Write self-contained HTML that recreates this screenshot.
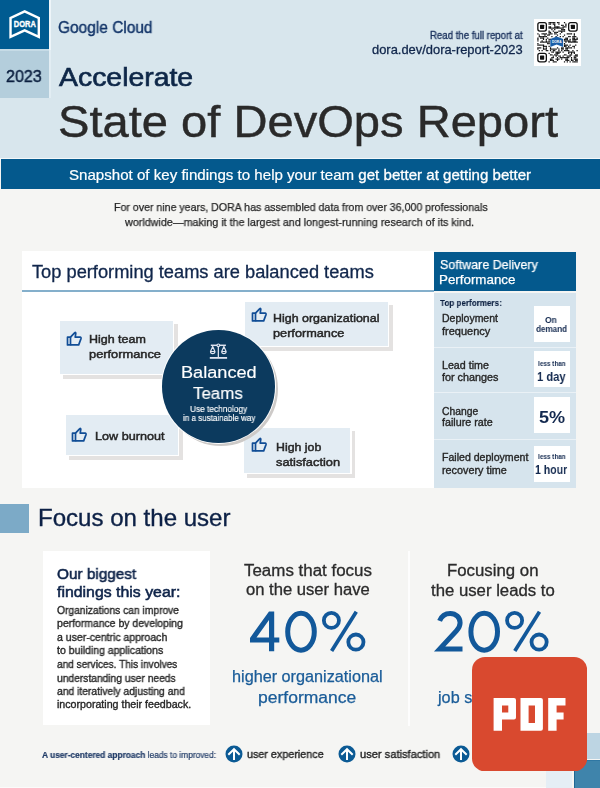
<!DOCTYPE html>
<html><head><meta charset="utf-8"><title>State of DevOps Report 2023</title>
<style>
html,body{margin:0;padding:0;}
body{width:600px;height:788px;overflow:hidden;position:relative;background:#f5f5f3;font-family:"Liberation Sans",sans-serif;}
.abs{position:absolute;}
.t{position:absolute;white-space:nowrap;will-change:transform;font-family:"Liberation Sans",sans-serif;}
.card{position:absolute;background:#e3ecf3;}
.shadow{position:absolute;background:#e4e2e1;}
.ic{display:block;}
.wb{position:absolute;left:534px;width:36px;height:36px;background:#fff;}
.sep{position:absolute;left:434px;width:142px;height:1px;background:#eaf1f6;}
</style></head><body>
<!-- header -->
<div class="abs" style="left:0;top:0;width:600px;height:158px;background:#d8e6ed"></div>
<div class="abs" style="left:49px;top:0;width:1.5px;height:50px;background:#eef5f9"></div>
<div class="abs" style="left:0;top:49px;width:49px;height:1.5px;background:#c6dbe6"></div>
<div class="abs" style="left:0;top:158px;width:600px;height:1.5px;background:#f3f7f9"></div>
<div class="abs" style="left:1px;top:159.3px;width:599px;height:30.2px;background:#04598d"></div>
<div class="abs" style="left:0;top:0;width:49px;height:49px;background:#005b91">
<svg width="49" height="49" viewBox="0 0 49 49">
<path fill="#fff" fill-rule="evenodd" d="M9.33,17.33 L24.67,10 L40,17.33 L40,38.67 L24.67,31.67 L9.33,38.67 Z M11.73,18.85 L11.73,34.94 L24.67,29.03 L37.6,34.94 L37.6,18.85 L24.67,12.66 Z"/>
<text x="24.8" y="27.1" text-anchor="middle" font-family="Liberation Sans" font-weight="700" font-size="8.8" fill="#fff" stroke="#fff" stroke-width="0.35" textLength="22" lengthAdjust="spacingAndGlyphs">DORA</text>
</svg></div>
<div class="abs" style="left:0;top:50.5px;width:49px;height:47.5px;background:#b4cedc"></div>
<div class="abs" style="left:49px;top:50px;width:1.5px;height:48px;background:#e2edf3"></div>
<!-- QR -->
<div class="abs" style="left:534px;top:18.6px;width:47.4px;height:47.4px;background:#fff">
<svg width="48" height="48" viewBox="0 0 48 48" style="position:absolute;left:0;top:0">
<path fill="#111" d="M14.50,3.00h1.25v1.25h-1.25zM15.90,3.00h1.25v1.25h-1.25zM17.30,3.00h1.25v1.25h-1.25zM18.70,3.00h1.25v1.25h-1.25zM20.10,3.00h1.25v1.25h-1.25zM22.90,3.00h1.25v1.25h-1.25zM24.30,3.00h1.25v1.25h-1.25zM29.90,3.00h1.25v1.25h-1.25zM14.50,4.40h1.25v1.25h-1.25zM15.90,4.40h1.25v1.25h-1.25zM18.70,4.40h1.25v1.25h-1.25zM20.10,4.40h1.25v1.25h-1.25zM24.30,4.40h1.25v1.25h-1.25zM31.30,4.40h1.25v1.25h-1.25zM20.10,5.80h1.25v1.25h-1.25zM27.10,5.80h1.25v1.25h-1.25zM28.50,5.80h1.25v1.25h-1.25zM31.30,5.80h1.25v1.25h-1.25zM14.50,7.20h1.25v1.25h-1.25zM15.90,7.20h1.25v1.25h-1.25zM20.10,7.20h1.25v1.25h-1.25zM21.50,7.20h1.25v1.25h-1.25zM22.90,7.20h1.25v1.25h-1.25zM24.30,7.20h1.25v1.25h-1.25zM28.50,7.20h1.25v1.25h-1.25zM29.90,7.20h1.25v1.25h-1.25zM31.30,7.20h1.25v1.25h-1.25zM14.50,8.60h1.25v1.25h-1.25zM15.90,8.60h1.25v1.25h-1.25zM17.30,8.60h1.25v1.25h-1.25zM18.70,8.60h1.25v1.25h-1.25zM20.10,8.60h1.25v1.25h-1.25zM21.50,8.60h1.25v1.25h-1.25zM22.90,8.60h1.25v1.25h-1.25zM24.30,8.60h1.25v1.25h-1.25zM25.70,8.60h1.25v1.25h-1.25zM27.10,8.60h1.25v1.25h-1.25zM28.50,8.60h1.25v1.25h-1.25zM17.30,10.00h1.25v1.25h-1.25zM20.10,10.00h1.25v1.25h-1.25zM27.10,10.00h1.25v1.25h-1.25zM28.50,10.00h1.25v1.25h-1.25zM29.90,10.00h1.25v1.25h-1.25zM14.50,11.40h1.25v1.25h-1.25zM18.70,11.40h1.25v1.25h-1.25zM24.30,11.40h1.25v1.25h-1.25zM25.70,11.40h1.25v1.25h-1.25zM27.10,11.40h1.25v1.25h-1.25zM28.50,11.40h1.25v1.25h-1.25zM29.90,11.40h1.25v1.25h-1.25zM14.50,12.80h1.25v1.25h-1.25zM15.90,12.80h1.25v1.25h-1.25zM20.10,12.80h1.25v1.25h-1.25zM21.50,12.80h1.25v1.25h-1.25zM22.90,12.80h1.25v1.25h-1.25zM27.10,12.80h1.25v1.25h-1.25zM3.30,14.20h1.25v1.25h-1.25zM7.50,14.20h1.25v1.25h-1.25zM8.90,14.20h1.25v1.25h-1.25zM10.30,14.20h1.25v1.25h-1.25zM11.70,14.20h1.25v1.25h-1.25zM14.50,14.20h1.25v1.25h-1.25zM15.90,14.20h1.25v1.25h-1.25zM17.30,14.20h1.25v1.25h-1.25zM20.10,14.20h1.25v1.25h-1.25zM21.50,14.20h1.25v1.25h-1.25zM25.70,14.20h1.25v1.25h-1.25zM32.70,14.20h1.25v1.25h-1.25zM34.10,14.20h1.25v1.25h-1.25zM35.50,14.20h1.25v1.25h-1.25zM36.90,14.20h1.25v1.25h-1.25zM39.70,14.20h1.25v1.25h-1.25zM4.70,15.60h1.25v1.25h-1.25zM10.30,15.60h1.25v1.25h-1.25zM13.10,15.60h1.25v1.25h-1.25zM14.50,15.60h1.25v1.25h-1.25zM22.90,15.60h1.25v1.25h-1.25zM29.90,15.60h1.25v1.25h-1.25zM39.70,15.60h1.25v1.25h-1.25zM4.70,17.00h1.25v1.25h-1.25zM6.10,17.00h1.25v1.25h-1.25zM7.50,17.00h1.25v1.25h-1.25zM8.90,17.00h1.25v1.25h-1.25zM10.30,17.00h1.25v1.25h-1.25zM11.70,17.00h1.25v1.25h-1.25zM17.30,17.00h1.25v1.25h-1.25zM21.50,17.00h1.25v1.25h-1.25zM25.70,17.00h1.25v1.25h-1.25zM28.50,17.00h1.25v1.25h-1.25zM34.10,17.00h1.25v1.25h-1.25zM35.50,17.00h1.25v1.25h-1.25zM38.30,17.00h1.25v1.25h-1.25zM39.70,17.00h1.25v1.25h-1.25zM41.10,17.00h1.25v1.25h-1.25zM3.30,18.40h1.25v1.25h-1.25zM6.10,18.40h1.25v1.25h-1.25zM7.50,18.40h1.25v1.25h-1.25zM8.90,18.40h1.25v1.25h-1.25zM13.10,18.40h1.25v1.25h-1.25zM31.30,18.40h1.25v1.25h-1.25zM32.70,18.40h1.25v1.25h-1.25zM38.30,18.40h1.25v1.25h-1.25zM39.70,18.40h1.25v1.25h-1.25zM42.50,18.40h1.25v1.25h-1.25zM3.30,19.80h1.25v1.25h-1.25zM8.90,19.80h1.25v1.25h-1.25zM11.70,19.80h1.25v1.25h-1.25zM14.50,19.80h1.25v1.25h-1.25zM15.90,19.80h1.25v1.25h-1.25zM29.90,19.80h1.25v1.25h-1.25zM31.30,19.80h1.25v1.25h-1.25zM32.70,19.80h1.25v1.25h-1.25zM35.50,19.80h1.25v1.25h-1.25zM38.30,19.80h1.25v1.25h-1.25zM39.70,19.80h1.25v1.25h-1.25zM41.10,19.80h1.25v1.25h-1.25zM42.50,19.80h1.25v1.25h-1.25zM3.30,21.20h1.25v1.25h-1.25zM7.50,21.20h1.25v1.25h-1.25zM11.70,21.20h1.25v1.25h-1.25zM14.50,21.20h1.25v1.25h-1.25zM29.90,21.20h1.25v1.25h-1.25zM31.30,21.20h1.25v1.25h-1.25zM32.70,21.20h1.25v1.25h-1.25zM34.10,21.20h1.25v1.25h-1.25zM35.50,21.20h1.25v1.25h-1.25zM38.30,21.20h1.25v1.25h-1.25zM39.70,21.20h1.25v1.25h-1.25zM41.10,21.20h1.25v1.25h-1.25zM6.10,22.60h1.25v1.25h-1.25zM7.50,22.60h1.25v1.25h-1.25zM8.90,22.60h1.25v1.25h-1.25zM10.30,22.60h1.25v1.25h-1.25zM11.70,22.60h1.25v1.25h-1.25zM13.10,22.60h1.25v1.25h-1.25zM14.50,22.60h1.25v1.25h-1.25zM31.30,22.60h1.25v1.25h-1.25zM34.10,22.60h1.25v1.25h-1.25zM35.50,22.60h1.25v1.25h-1.25zM36.90,22.60h1.25v1.25h-1.25zM38.30,22.60h1.25v1.25h-1.25zM39.70,22.60h1.25v1.25h-1.25zM41.10,22.60h1.25v1.25h-1.25zM42.50,22.60h1.25v1.25h-1.25zM3.30,24.00h1.25v1.25h-1.25zM13.10,24.00h1.25v1.25h-1.25zM14.50,24.00h1.25v1.25h-1.25zM29.90,24.00h1.25v1.25h-1.25zM3.30,25.40h1.25v1.25h-1.25zM4.70,25.40h1.25v1.25h-1.25zM6.10,25.40h1.25v1.25h-1.25zM7.50,25.40h1.25v1.25h-1.25zM8.90,25.40h1.25v1.25h-1.25zM29.90,25.40h1.25v1.25h-1.25zM31.30,25.40h1.25v1.25h-1.25zM32.70,25.40h1.25v1.25h-1.25zM35.50,25.40h1.25v1.25h-1.25zM41.10,25.40h1.25v1.25h-1.25zM8.90,26.80h1.25v1.25h-1.25zM10.30,26.80h1.25v1.25h-1.25zM11.70,26.80h1.25v1.25h-1.25zM14.50,26.80h1.25v1.25h-1.25zM29.90,26.80h1.25v1.25h-1.25zM31.30,26.80h1.25v1.25h-1.25zM34.10,26.80h1.25v1.25h-1.25zM38.30,26.80h1.25v1.25h-1.25zM39.70,26.80h1.25v1.25h-1.25zM3.30,28.20h1.25v1.25h-1.25zM4.70,28.20h1.25v1.25h-1.25zM6.10,28.20h1.25v1.25h-1.25zM8.90,28.20h1.25v1.25h-1.25zM11.70,28.20h1.25v1.25h-1.25zM15.90,28.20h1.25v1.25h-1.25zM22.90,28.20h1.25v1.25h-1.25zM27.10,28.20h1.25v1.25h-1.25zM28.50,28.20h1.25v1.25h-1.25zM31.30,28.20h1.25v1.25h-1.25zM32.70,28.20h1.25v1.25h-1.25zM34.10,28.20h1.25v1.25h-1.25zM35.50,28.20h1.25v1.25h-1.25zM36.90,28.20h1.25v1.25h-1.25zM39.70,28.20h1.25v1.25h-1.25zM3.30,29.60h1.25v1.25h-1.25zM8.90,29.60h1.25v1.25h-1.25zM10.30,29.60h1.25v1.25h-1.25zM11.70,29.60h1.25v1.25h-1.25zM15.90,29.60h1.25v1.25h-1.25zM17.30,29.60h1.25v1.25h-1.25zM18.70,29.60h1.25v1.25h-1.25zM20.10,29.60h1.25v1.25h-1.25zM21.50,29.60h1.25v1.25h-1.25zM24.30,29.60h1.25v1.25h-1.25zM27.10,29.60h1.25v1.25h-1.25zM28.50,29.60h1.25v1.25h-1.25zM31.30,29.60h1.25v1.25h-1.25zM32.70,29.60h1.25v1.25h-1.25zM4.70,31.00h1.25v1.25h-1.25zM7.50,31.00h1.25v1.25h-1.25zM11.70,31.00h1.25v1.25h-1.25zM13.10,31.00h1.25v1.25h-1.25zM15.90,31.00h1.25v1.25h-1.25zM18.70,31.00h1.25v1.25h-1.25zM20.10,31.00h1.25v1.25h-1.25zM24.30,31.00h1.25v1.25h-1.25zM27.10,31.00h1.25v1.25h-1.25zM29.90,31.00h1.25v1.25h-1.25zM31.30,31.00h1.25v1.25h-1.25zM32.70,31.00h1.25v1.25h-1.25zM34.10,31.00h1.25v1.25h-1.25zM38.30,31.00h1.25v1.25h-1.25zM42.50,31.00h1.25v1.25h-1.25zM17.30,32.40h1.25v1.25h-1.25zM18.70,32.40h1.25v1.25h-1.25zM21.50,32.40h1.25v1.25h-1.25zM22.90,32.40h1.25v1.25h-1.25zM24.30,32.40h1.25v1.25h-1.25zM25.70,32.40h1.25v1.25h-1.25zM28.50,32.40h1.25v1.25h-1.25zM34.10,32.40h1.25v1.25h-1.25zM35.50,32.40h1.25v1.25h-1.25zM36.90,32.40h1.25v1.25h-1.25zM38.30,32.40h1.25v1.25h-1.25zM39.70,32.40h1.25v1.25h-1.25zM14.50,33.80h1.25v1.25h-1.25zM21.50,33.80h1.25v1.25h-1.25zM22.90,33.80h1.25v1.25h-1.25zM24.30,33.80h1.25v1.25h-1.25zM34.10,33.80h1.25v1.25h-1.25zM36.90,33.80h1.25v1.25h-1.25zM39.70,33.80h1.25v1.25h-1.25zM15.90,35.20h1.25v1.25h-1.25zM17.30,35.20h1.25v1.25h-1.25zM20.10,35.20h1.25v1.25h-1.25zM21.50,35.20h1.25v1.25h-1.25zM22.90,35.20h1.25v1.25h-1.25zM29.90,35.20h1.25v1.25h-1.25zM31.30,35.20h1.25v1.25h-1.25zM35.50,35.20h1.25v1.25h-1.25zM36.90,35.20h1.25v1.25h-1.25zM41.10,35.20h1.25v1.25h-1.25zM42.50,35.20h1.25v1.25h-1.25zM18.70,36.60h1.25v1.25h-1.25zM21.50,36.60h1.25v1.25h-1.25zM24.30,36.60h1.25v1.25h-1.25zM25.70,36.60h1.25v1.25h-1.25zM28.50,36.60h1.25v1.25h-1.25zM32.70,36.60h1.25v1.25h-1.25zM34.10,36.60h1.25v1.25h-1.25zM35.50,36.60h1.25v1.25h-1.25zM39.70,36.60h1.25v1.25h-1.25zM41.10,36.60h1.25v1.25h-1.25zM42.50,36.60h1.25v1.25h-1.25zM17.30,38.00h1.25v1.25h-1.25zM18.70,38.00h1.25v1.25h-1.25zM22.90,38.00h1.25v1.25h-1.25zM25.70,38.00h1.25v1.25h-1.25zM27.10,38.00h1.25v1.25h-1.25zM28.50,38.00h1.25v1.25h-1.25zM29.90,38.00h1.25v1.25h-1.25zM31.30,38.00h1.25v1.25h-1.25zM32.70,38.00h1.25v1.25h-1.25zM34.10,38.00h1.25v1.25h-1.25zM36.90,38.00h1.25v1.25h-1.25zM39.70,38.00h1.25v1.25h-1.25zM41.10,38.00h1.25v1.25h-1.25zM15.90,39.40h1.25v1.25h-1.25zM17.30,39.40h1.25v1.25h-1.25zM21.50,39.40h1.25v1.25h-1.25zM22.90,39.40h1.25v1.25h-1.25zM24.30,39.40h1.25v1.25h-1.25zM27.10,39.40h1.25v1.25h-1.25zM31.30,39.40h1.25v1.25h-1.25zM32.70,39.40h1.25v1.25h-1.25zM36.90,39.40h1.25v1.25h-1.25zM39.70,39.40h1.25v1.25h-1.25zM41.10,39.40h1.25v1.25h-1.25zM42.50,39.40h1.25v1.25h-1.25zM15.90,40.80h1.25v1.25h-1.25zM17.30,40.80h1.25v1.25h-1.25zM18.70,40.80h1.25v1.25h-1.25zM22.90,40.80h1.25v1.25h-1.25zM31.30,40.80h1.25v1.25h-1.25zM32.70,40.80h1.25v1.25h-1.25zM34.10,40.80h1.25v1.25h-1.25zM36.90,40.80h1.25v1.25h-1.25zM38.30,40.80h1.25v1.25h-1.25zM41.10,40.80h1.25v1.25h-1.25zM42.50,40.80h1.25v1.25h-1.25zM14.50,42.20h1.25v1.25h-1.25zM18.70,42.20h1.25v1.25h-1.25zM20.10,42.20h1.25v1.25h-1.25zM21.50,42.20h1.25v1.25h-1.25zM29.90,42.20h1.25v1.25h-1.25zM32.70,42.20h1.25v1.25h-1.25zM35.50,42.20h1.25v1.25h-1.25zM38.30,42.20h1.25v1.25h-1.25zM39.70,42.20h1.25v1.25h-1.25zM41.10,42.20h1.25v1.25h-1.25zM42.50,42.20h1.25v1.25h-1.25z"/>
<rect x="3.85" y="3.55" width="8.50" height="8.50" rx="2" fill="none" stroke="#111" stroke-width="1.3"/><rect x="6.00" y="5.70" width="4.20" height="4.20" rx="0.6" fill="#111"/><rect x="34.65" y="3.55" width="8.50" height="8.50" rx="2" fill="none" stroke="#111" stroke-width="1.3"/><rect x="36.80" y="5.70" width="4.20" height="4.20" rx="0.6" fill="#111"/><rect x="3.85" y="34.35" width="8.50" height="8.50" rx="2" fill="none" stroke="#111" stroke-width="1.3"/><rect x="6.00" y="36.50" width="4.20" height="4.20" rx="0.6" fill="#111"/>
<g transform="translate(16.3,17.6) scale(0.4)"><path fill="#1a5ea8" d="M0,6 L16,0 L32,6 L32,26 L16,20 L0,26 Z"/><text x="16" y="15" text-anchor="middle" font-family="Liberation Sans" font-weight="700" font-size="8.5" fill="#fff" textLength="24" lengthAdjust="spacingAndGlyphs">DORA</text></g>
</svg></div>
<!-- intro panel -->
<div class="abs" style="left:22px;top:250.5px;width:411.5px;height:237.2px;background:#fff"></div>
<div class="abs" style="left:22px;top:290px;width:412px;height:2px;background:#84afcb"></div>
<div class="abs" style="left:433.8px;top:251.5px;width:142.7px;height:39.5px;background:#04598d"></div>
<div class="abs" style="left:433.8px;top:292.5px;width:142.4px;height:195.1px;background:#d6e4ed"></div>
<div class="sep" style="top:346.5px"></div>
<div class="sep" style="top:392px"></div>
<div class="sep" style="top:438.5px"></div>
<div class="wb" style="top:305.5px"></div>
<div class="wb" style="top:351.3px"></div>
<div class="wb" style="top:397px"></div>
<div class="wb" style="top:446px"></div>
<div class="shadow" style="left:62.5px;top:323.8px;width:115.8px;height:55.0px"></div><div class="abs" style="left:58.3px;top:319.3px;width:116.2px;height:55.6px;background:#fff"></div><div class="card" style="left:59.5px;top:320.5px;width:113.8px;height:53.2px"></div><div class="abs" style="left:65.5px;top:331.0px"><svg class="ic" viewBox="0 0 17 16" width="17" height="16"><g fill="none" stroke="#114d96" stroke-width="1.7" stroke-linejoin="round"><rect x="1.5" y="6.2" width="3" height="7.7"/><path d="M4.5,6.2 L8.6,1.8 Q9.7,0.9 9.8,2.3 L9.2,6.2 L14.1,6.2 Q15.4,6.3 15,7.6 L12.7,13.9 L4.5,13.9"/></g></svg></div><div class="shadow" style="left:248.1px;top:304.9px;width:145.2px;height:46.2px"></div><div class="abs" style="left:243.9px;top:300.5px;width:145.6px;height:46.9px;background:#fff"></div><div class="card" style="left:245.1px;top:301.7px;width:143.2px;height:44.5px"></div><div class="abs" style="left:251.1px;top:307.3px"><svg class="ic" viewBox="0 0 17 16" width="17" height="16"><g fill="none" stroke="#114d96" stroke-width="1.7" stroke-linejoin="round"><rect x="1.5" y="6.2" width="3" height="7.7"/><path d="M4.5,6.2 L8.6,1.8 Q9.7,0.9 9.8,2.3 L9.2,6.2 L14.1,6.2 Q15.4,6.3 15,7.6 L12.7,13.9 L4.5,13.9"/></g></svg></div><div class="shadow" style="left:68.5px;top:417.8px;width:114.0px;height:42.1px"></div><div class="abs" style="left:64.3px;top:413.3px;width:114.4px;height:42.7px;background:#fff"></div><div class="card" style="left:65.5px;top:414.5px;width:112.0px;height:40.3px"></div><div class="abs" style="left:70.9px;top:427.0px"><svg class="ic" viewBox="0 0 17 16" width="17" height="16"><g fill="none" stroke="#114d96" stroke-width="1.7" stroke-linejoin="round"><rect x="1.5" y="6.2" width="3" height="7.7"/><path d="M4.5,6.2 L8.6,1.8 Q9.7,0.9 9.8,2.3 L9.2,6.2 L14.1,6.2 Q15.4,6.3 15,7.6 L12.7,13.9 L4.5,13.9"/></g></svg></div><div class="shadow" style="left:247.3px;top:431.1px;width:108.2px;height:46.8px"></div><div class="abs" style="left:243.1px;top:426.6px;width:108.6px;height:47.5px;background:#fff"></div><div class="card" style="left:244.3px;top:427.8px;width:106.2px;height:45.1px"></div><div class="abs" style="left:250.9px;top:437.4px"><svg class="ic" viewBox="0 0 17 16" width="17" height="16"><g fill="none" stroke="#114d96" stroke-width="1.7" stroke-linejoin="round"><rect x="1.5" y="6.2" width="3" height="7.7"/><path d="M4.5,6.2 L8.6,1.8 Q9.7,0.9 9.8,2.3 L9.2,6.2 L14.1,6.2 Q15.4,6.3 15,7.6 L12.7,13.9 L4.5,13.9"/></g></svg></div>
<!-- circle -->
<div class="abs" style="left:163.8px;top:332.2px;width:114px;height:114px;border-radius:50%;background:#cdcac8"></div>
<div class="abs" style="left:161px;top:329.2px;width:115px;height:115px;border-radius:50%;background:#fff"></div>
<div class="abs" style="left:162.2px;top:330.4px;width:112.6px;height:112.6px;border-radius:50%;background:#0c3a5e"></div>
<svg class="abs" style="left:209px;top:341px" width="19" height="19" viewBox="0 0 19 19">
<g stroke="#dfe3ef" fill="none">
<path d="M1.8,4.3 H16.9" stroke-width="1.5"/>
<path d="M9.35,5 V16.5" stroke-width="1.25"/>
<path d="M0.8,16.9 H18.1" stroke-width="1.8"/>
<path d="M3.7,5.4 L1.5,10.5 H5.9 Z M1.5,10.5 A2.2,2.2 0 0 0 5.9,10.5" stroke-width="1.2" stroke-linejoin="round"/>
<path d="M14.9,5.4 L12.7,10.5 H17.1 Z M12.7,10.5 A2.2,2.2 0 0 0 17.1,10.5" stroke-width="1.2" stroke-linejoin="round"/>
<circle cx="9.35" cy="4.3" r="1.35" fill="#0c3a5e" stroke-width="1.1"/>
</g></svg>
<!-- focus -->
<div class="abs" style="left:0;top:503.6px;width:29.1px;height:29px;background:#7caac7"></div>
<div class="abs" style="left:43.3px;top:551px;width:166.7px;height:173.6px;background:#fff"></div>
<div class="abs" style="left:408.3px;top:551px;width:1.4px;height:174.5px;background:#fdfdfd"></div>
<svg class="abs" style="left:0;top:0;overflow:visible" width="600" height="788"><g fill="none" stroke="#12589a" stroke-width="5"><path stroke="none" fill="#12589a" fill-rule="evenodd" d="M269,611.5 H274.2 V637.5 H279.3 V642.5 H274.2 V651.2 H269 V642.5 H250 V637.9 Z M269,620.1 V637.5 H256.5 Z"/><ellipse cx="301" cy="631.7" rx="13.3" ry="18.55" /><g stroke-width="3.8"><circle cx="331.40" cy="620.40" r="7.55"/><circle cx="355.90" cy="642.10" r="7.6"/><path d="M356.30,611.70 L331.60,651.10" stroke-width="3.7"/></g><path d="M439.6,620.8 C441.5,616 445.5,613.4 450.2,613.4 C456,613.4 460.1,617.6 460.1,622.8 C460.1,626.3 458.6,628.6 456.3,631 L439.7,648.9 H462.5" stroke-linejoin="miter"/><ellipse cx="484.2" cy="631.7" rx="13.3" ry="18.55" /><g stroke-width="3.8"><circle cx="514.60" cy="620.40" r="7.55"/><circle cx="539.10" cy="642.10" r="7.6"/><path d="M539.50,611.70 L514.80,651.10" stroke-width="3.7"/></g></g></svg>
<svg class="abs" style="left:225.0px;top:744.8px" width="18" height="18" viewBox="0 0 18 18"><circle cx="9" cy="9" r="8.5" fill="#0b5a94"/><g stroke="#fff" stroke-width="2" fill="none"><path d="M9,4.2 V15.1"/><path d="M3.3,9.8 L9,4.2 L14.7,9.8"/></g></svg><svg class="abs" style="left:338.3px;top:744.8px" width="18" height="18" viewBox="0 0 18 18"><circle cx="9" cy="9" r="8.5" fill="#0b5a94"/><g stroke="#fff" stroke-width="2" fill="none"><path d="M9,4.2 V15.1"/><path d="M3.3,9.8 L9,4.2 L14.7,9.8"/></g></svg><svg class="abs" style="left:452.4px;top:744.8px" width="18" height="18" viewBox="0 0 18 18"><circle cx="9" cy="9" r="8.5" fill="#0b5a94"/><g stroke="#fff" stroke-width="2" fill="none"><path d="M9,4.2 V15.1"/><path d="M3.3,9.8 L9,4.2 L14.7,9.8"/></g></svg>
<!-- deco squares -->
<div class="abs" style="left:560px;top:733.3px;width:40px;height:25.5px;background:#bdd5e3"></div>
<div class="abs" style="left:573.6px;top:760px;width:26.4px;height:28px;background:#3f84ab;border-left:1.2px solid #1f6794;border-top:1px solid #2f77a3;box-sizing:border-box"></div>
<div class="abs" style="left:546px;top:740px;width:26.3px;height:48px;background:#e5eef5"></div>
<div class="abs" style="left:0;top:786.5px;width:546px;height:1.5px;background:#fbfbfa"></div>
<div class="t" id="t0" style="top:19.00px;font-size:16.4px;line-height:16.4px;color:#123468;font-weight:400;-webkit-text-stroke:0.4px #123468;transform:scaleX(0.9430);transform-origin:0 0;left:57.80px;">Google Cloud<span class="pb" style="display:inline-block;width:0;height:0"></span></div>
<div class="t" id="t1" style="top:31.00px;font-size:10.2px;line-height:10.2px;color:#1c335e;font-weight:400;-webkit-text-stroke:0.35px #1c335e;transform:scaleX(0.9445);transform-origin:0 0;left:429.60px;">Read the full report at<span class="pb" style="display:inline-block;width:0;height:0"></span></div>
<div class="t" id="t2" style="top:44.00px;font-size:12.8px;line-height:12.8px;color:#10264b;font-weight:400;-webkit-text-stroke:0.3px #10264b;transform:scaleX(1.0081);transform-origin:0 0;left:371.60px;">dora.dev/dora-report-2023<span class="pb" style="display:inline-block;width:0;height:0"></span></div>
<div class="t" id="t3" style="top:68.00px;font-size:16.5px;line-height:16.5px;color:#0b1f3f;font-weight:400;-webkit-text-stroke:0.45px #0b1f3f;transform:scaleX(0.9752);transform-origin:0 0;left:6.20px;">2023<span class="pb" style="display:inline-block;width:0;height:0"></span></div>
<div class="t" id="t4" style="top:64.00px;font-size:26px;line-height:26px;color:#0e2748;font-weight:400;-webkit-text-stroke:0.65px #0e2748;transform:scaleX(1.0922);transform-origin:0 0;left:59.00px;">Accelerate<span class="pb" style="display:inline-block;width:0;height:0"></span></div>
<div class="t" id="t5" style="top:100.00px;font-size:44.5px;line-height:44.5px;color:#2a2a2a;font-weight:400;-webkit-text-stroke:0.45px #2a2a2a;transform:scaleX(1.0584);transform-origin:0 0;left:58.00px;">State of DevOps Report<span class="pb" style="display:inline-block;width:0;height:0"></span></div>
<div class="t" id="t6" style="top:168.00px;font-size:14.8px;line-height:14.8px;color:#ffffff;font-weight:400;-webkit-text-stroke:0.2px #ffffff;transform:scaleX(1.0196);transform-origin:0 0;left:68.80px;">Snapshot of key findings to help your team <span style="-webkit-text-stroke:0.3px #fff">get better at getting better</span><span class="pb" style="display:inline-block;width:0;height:0"></span></div>
<div class="t" id="t7" style="top:202.00px;font-size:11px;line-height:11px;color:#262626;font-weight:400;-webkit-text-stroke:0.25px #262626;transform:scaleX(0.9639);transform-origin:0 0;left:114.00px;">For over nine years, DORA has assembled data from over 36,000 professionals<span class="pb" style="display:inline-block;width:0;height:0"></span></div>
<div class="t" id="t8" style="top:217.00px;font-size:11px;line-height:11px;color:#262626;font-weight:400;-webkit-text-stroke:0.25px #262626;transform:scaleX(0.9776);transform-origin:0 0;left:125.00px;">worldwide—making it the largest and longest-running research of its kind.<span class="pb" style="display:inline-block;width:0;height:0"></span></div>
<div class="t" id="t9" style="top:264.00px;font-size:17.5px;line-height:17.5px;color:#10264b;font-weight:400;-webkit-text-stroke:0.3px #10264b;transform:scaleX(1.0427);transform-origin:0 0;left:32.00px;">Top performing teams are balanced teams<span class="pb" style="display:inline-block;width:0;height:0"></span></div>
<div class="t" id="t10" style="top:259.00px;font-size:12.8px;line-height:12.8px;color:#ffffff;font-weight:400;-webkit-text-stroke:0.25px #ffffff;transform:scaleX(0.9743);transform-origin:0 0;left:439.80px;">Software Delivery<span class="pb" style="display:inline-block;width:0;height:0"></span></div>
<div class="t" id="t11" style="top:274.00px;font-size:12.8px;line-height:12.8px;color:#ffffff;font-weight:400;-webkit-text-stroke:0.25px #ffffff;transform:scaleX(1.0431);transform-origin:0 0;left:438.80px;">Performance<span class="pb" style="display:inline-block;width:0;height:0"></span></div>
<div class="t" id="t12" style="top:298.00px;font-size:9.6px;line-height:9.6px;color:#0b1f40;font-weight:700;-webkit-text-stroke:0.1px #0b1f40;transform:scaleX(0.8425);transform-origin:0 0;left:440.00px;">Top performers:<span class="pb" style="display:inline-block;width:0;height:0"></span></div>
<div class="t" id="t13" style="top:314.00px;font-size:10.3px;line-height:10.3px;color:#262626;font-weight:400;-webkit-text-stroke:0.35px #262626;transform:scaleX(1.0182);transform-origin:0 0;left:442.00px;">Deployment<span class="pb" style="display:inline-block;width:0;height:0"></span></div>
<div class="t" id="t14" style="top:327.00px;font-size:10.3px;line-height:10.3px;color:#262626;font-weight:400;-webkit-text-stroke:0.35px #262626;transform:scaleX(1.0671);transform-origin:0 0;left:442.00px;">frequency<span class="pb" style="display:inline-block;width:0;height:0"></span></div>
<div class="t" id="t15" style="top:361.00px;font-size:10.3px;line-height:10.3px;color:#262626;font-weight:400;-webkit-text-stroke:0.35px #262626;transform:scaleX(1.0358);transform-origin:0 0;left:442.00px;">Lead time<span class="pb" style="display:inline-block;width:0;height:0"></span></div>
<div class="t" id="t16" style="top:373.00px;font-size:10.3px;line-height:10.3px;color:#262626;font-weight:400;-webkit-text-stroke:0.35px #262626;transform:scaleX(1.0482);transform-origin:0 0;left:442.00px;">for changes<span class="pb" style="display:inline-block;width:0;height:0"></span></div>
<div class="t" id="t17" style="top:407.00px;font-size:10.3px;line-height:10.3px;color:#262626;font-weight:400;-webkit-text-stroke:0.35px #262626;transform:scaleX(1.0030);transform-origin:0 0;left:442.00px;">Change<span class="pb" style="display:inline-block;width:0;height:0"></span></div>
<div class="t" id="t18" style="top:418.00px;font-size:10.3px;line-height:10.3px;color:#262626;font-weight:400;-webkit-text-stroke:0.35px #262626;transform:scaleX(1.0408);transform-origin:0 0;left:442.00px;">failure rate<span class="pb" style="display:inline-block;width:0;height:0"></span></div>
<div class="t" id="t19" style="top:453.00px;font-size:10.3px;line-height:10.3px;color:#262626;font-weight:400;-webkit-text-stroke:0.35px #262626;transform:scaleX(1.0265);transform-origin:0 0;left:442.00px;">Failed deployment<span class="pb" style="display:inline-block;width:0;height:0"></span></div>
<div class="t" id="t20" style="top:466.00px;font-size:10.3px;line-height:10.3px;color:#262626;font-weight:400;-webkit-text-stroke:0.35px #262626;transform:scaleX(1.0484);transform-origin:0 0;left:442.00px;">recovery time<span class="pb" style="display:inline-block;width:0;height:0"></span></div>
<div class="t" id="t21" style="top:316.00px;font-size:8.8px;line-height:8.8px;color:#13294f;font-weight:700;transform:scaleX(0.9601);transform-origin:0 0;left:545.00px;">On<span class="pb" style="display:inline-block;width:0;height:0"></span></div>
<div class="t" id="t22" style="top:325.00px;font-size:8.8px;line-height:8.8px;color:#13294f;font-weight:700;transform:scaleX(0.9213);transform-origin:0 0;left:535.80px;">demand<span class="pb" style="display:inline-block;width:0;height:0"></span></div>
<div class="t" id="t23" style="top:361.00px;font-size:6.8px;line-height:6.8px;color:#13294f;font-weight:700;transform:scaleX(0.9399);transform-origin:0 0;left:538.00px;">less than<span class="pb" style="display:inline-block;width:0;height:0"></span></div>
<div class="t" id="t24" style="top:370.00px;font-size:13.5px;line-height:13.5px;color:#13294f;font-weight:700;transform:scaleX(0.8286);transform-origin:0 0;left:537.00px;">1 day<span class="pb" style="display:inline-block;width:0;height:0"></span></div>
<div class="t" id="t25" style="top:409.00px;font-size:17px;line-height:17px;color:#13294f;font-weight:700;transform:scaleX(1.0629);transform-origin:0 0;left:539.00px;">5%<span class="pb" style="display:inline-block;width:0;height:0"></span></div>
<div class="t" id="t26" style="top:454.00px;font-size:6.8px;line-height:6.8px;color:#13294f;font-weight:700;transform:scaleX(0.9399);transform-origin:0 0;left:538.00px;">less than<span class="pb" style="display:inline-block;width:0;height:0"></span></div>
<div class="t" id="t27" style="top:463.00px;font-size:13.5px;line-height:13.5px;color:#13294f;font-weight:700;transform:scaleX(0.7805);transform-origin:0 0;left:535.00px;">1 hour<span class="pb" style="display:inline-block;width:0;height:0"></span></div>
<div class="t" id="t28" style="top:334.00px;font-size:10.8px;line-height:10.8px;color:#262626;font-weight:400;-webkit-text-stroke:0.45px #262626;transform:scaleX(1.1551);transform-origin:0 0;left:89.00px;">High team<span class="pb" style="display:inline-block;width:0;height:0"></span></div>
<div class="t" id="t29" style="top:349.00px;font-size:10.8px;line-height:10.8px;color:#262626;font-weight:400;-webkit-text-stroke:0.45px #262626;transform:scaleX(1.1870);transform-origin:0 0;left:89.00px;">performance<span class="pb" style="display:inline-block;width:0;height:0"></span></div>
<div class="t" id="t30" style="top:313.00px;font-size:10.8px;line-height:10.8px;color:#262626;font-weight:400;-webkit-text-stroke:0.45px #262626;transform:scaleX(1.1511);transform-origin:0 0;left:273.00px;">High organizational<span class="pb" style="display:inline-block;width:0;height:0"></span></div>
<div class="t" id="t31" style="top:328.00px;font-size:10.8px;line-height:10.8px;color:#262626;font-weight:400;-webkit-text-stroke:0.45px #262626;transform:scaleX(1.1771);transform-origin:0 0;left:273.00px;">performance<span class="pb" style="display:inline-block;width:0;height:0"></span></div>
<div class="t" id="t32" style="top:431.00px;font-size:10.8px;line-height:10.8px;color:#262626;font-weight:400;-webkit-text-stroke:0.45px #262626;transform:scaleX(1.1684);transform-origin:0 0;left:95.00px;">Low burnout<span class="pb" style="display:inline-block;width:0;height:0"></span></div>
<div class="t" id="t33" style="top:442.00px;font-size:10.8px;line-height:10.8px;color:#262626;font-weight:400;-webkit-text-stroke:0.45px #262626;transform:scaleX(1.1429);transform-origin:0 0;left:276.00px;">High job<span class="pb" style="display:inline-block;width:0;height:0"></span></div>
<div class="t" id="t34" style="top:457.00px;font-size:10.8px;line-height:10.8px;color:#262626;font-weight:400;-webkit-text-stroke:0.45px #262626;transform:scaleX(1.1852);transform-origin:0 0;left:276.00px;">satisfaction<span class="pb" style="display:inline-block;width:0;height:0"></span></div>
<div class="t" id="t35" style="top:364.00px;font-size:17.4px;line-height:17.4px;color:#ffffff;font-weight:400;-webkit-text-stroke:0.15px #ffffff;transform:scaleX(1.0437);transform-origin:0 0;left:180.60px;">Balanced<span class="pb" style="display:inline-block;width:0;height:0"></span></div>
<div class="t" id="t36" style="top:385.00px;font-size:17.4px;line-height:17.4px;color:#ffffff;font-weight:400;-webkit-text-stroke:0.15px #ffffff;transform:scaleX(0.9727);transform-origin:0 0;left:193.40px;">Teams<span class="pb" style="display:inline-block;width:0;height:0"></span></div>
<div class="t" id="t37" style="top:405.00px;font-size:9px;line-height:9px;color:#ffffff;font-weight:400;-webkit-text-stroke:0.15px #ffffff;transform:scaleX(0.9227);transform-origin:0 0;left:189.80px;">Use technology<span class="pb" style="display:inline-block;width:0;height:0"></span></div>
<div class="t" id="t38" style="top:414.00px;font-size:9px;line-height:9px;color:#ffffff;font-weight:400;-webkit-text-stroke:0.15px #ffffff;transform:scaleX(0.8927);transform-origin:0 0;left:182.80px;">in a sustainable way<span class="pb" style="display:inline-block;width:0;height:0"></span></div>
<div class="t" id="t39" style="top:507.00px;font-size:23.6px;line-height:23.6px;color:#0d2146;font-weight:400;-webkit-text-stroke:0.35px #0d2146;transform:scaleX(1.0192);transform-origin:0 0;left:38.20px;">Focus on the user<span class="pb" style="display:inline-block;width:0;height:0"></span></div>
<div class="t" id="t40" style="top:566.00px;font-size:15.4px;line-height:15.4px;color:#0f2449;font-weight:400;-webkit-text-stroke:0.55px #0f2449;transform:scaleX(0.9951);transform-origin:0 0;left:57.00px;">Our biggest<span class="pb" style="display:inline-block;width:0;height:0"></span></div>
<div class="t" id="t41" style="top:584.00px;font-size:15.4px;line-height:15.4px;color:#0f2449;font-weight:400;-webkit-text-stroke:0.55px #0f2449;transform:scaleX(1.0303);transform-origin:0 0;left:57.00px;">findings this year:<span class="pb" style="display:inline-block;width:0;height:0"></span></div>
<div class="t" id="t42" style="top:605.00px;font-size:10.6px;line-height:10.6px;color:#262626;font-weight:400;-webkit-text-stroke:0.35px #262626;transform:scaleX(0.9683);transform-origin:0 0;left:57.00px;">Organizations can improve<span class="pb" style="display:inline-block;width:0;height:0"></span></div>
<div class="t" id="t43" style="top:618.00px;font-size:10.6px;line-height:10.6px;color:#262626;font-weight:400;-webkit-text-stroke:0.35px #262626;transform:scaleX(0.9844);transform-origin:0 0;left:57.00px;">performance by developing<span class="pb" style="display:inline-block;width:0;height:0"></span></div>
<div class="t" id="t44" style="top:632.00px;font-size:10.6px;line-height:10.6px;color:#262626;font-weight:400;-webkit-text-stroke:0.35px #262626;transform:scaleX(0.9910);transform-origin:0 0;left:57.00px;">a user-centric approach<span class="pb" style="display:inline-block;width:0;height:0"></span></div>
<div class="t" id="t45" style="top:645.00px;font-size:10.6px;line-height:10.6px;color:#262626;font-weight:400;-webkit-text-stroke:0.35px #262626;transform:scaleX(0.9907);transform-origin:0 0;left:57.00px;">to building applications<span class="pb" style="display:inline-block;width:0;height:0"></span></div>
<div class="t" id="t46" style="top:659.00px;font-size:10.6px;line-height:10.6px;color:#262626;font-weight:400;-webkit-text-stroke:0.35px #262626;transform:scaleX(0.9516);transform-origin:0 0;left:57.00px;">and services. This involves<span class="pb" style="display:inline-block;width:0;height:0"></span></div>
<div class="t" id="t47" style="top:673.00px;font-size:10.6px;line-height:10.6px;color:#262626;font-weight:400;-webkit-text-stroke:0.35px #262626;transform:scaleX(0.9683);transform-origin:0 0;left:57.00px;">understanding user needs<span class="pb" style="display:inline-block;width:0;height:0"></span></div>
<div class="t" id="t48" style="top:686.00px;font-size:10.6px;line-height:10.6px;color:#262626;font-weight:400;-webkit-text-stroke:0.35px #262626;transform:scaleX(0.9733);transform-origin:0 0;left:57.00px;">and iteratively adjusting and<span class="pb" style="display:inline-block;width:0;height:0"></span></div>
<div class="t" id="t49" style="top:699.00px;font-size:10.6px;line-height:10.6px;color:#262626;font-weight:400;-webkit-text-stroke:0.35px #262626;transform:scaleX(1.0038);transform-origin:0 0;left:57.00px;">incorporating their feedback.<span class="pb" style="display:inline-block;width:0;height:0"></span></div>
<div class="t" id="t50" style="top:563.00px;font-size:15.8px;line-height:15.8px;color:#2b2b2b;font-weight:400;-webkit-text-stroke:0.3px #2b2b2b;transform:scaleX(1.0714);transform-origin:0 0;left:244.00px;">Teams that focus<span class="pb" style="display:inline-block;width:0;height:0"></span></div>
<div class="t" id="t51" style="top:582.00px;font-size:15.8px;line-height:15.8px;color:#2b2b2b;font-weight:400;-webkit-text-stroke:0.3px #2b2b2b;transform:scaleX(1.0517);transform-origin:0 0;left:246.00px;">on the user have<span class="pb" style="display:inline-block;width:0;height:0"></span></div>
<div class="t" id="t52" style="top:669.00px;font-size:15.8px;line-height:15.8px;color:#1a5c98;font-weight:400;-webkit-text-stroke:0.25px #1a5c98;transform:scaleX(1.0269);transform-origin:0 0;left:231.80px;">higher organizational<span class="pb" style="display:inline-block;width:0;height:0"></span></div>
<div class="t" id="t53" style="top:690.00px;font-size:15.8px;line-height:15.8px;color:#1a5c98;font-weight:400;-webkit-text-stroke:0.25px #1a5c98;transform:scaleX(1.1081);transform-origin:0 0;left:258.20px;">performance<span class="pb" style="display:inline-block;width:0;height:0"></span></div>
<div class="t" id="t54" style="top:563.00px;font-size:15.8px;line-height:15.8px;color:#2b2b2b;font-weight:400;-webkit-text-stroke:0.3px #2b2b2b;transform:scaleX(1.0636);transform-origin:0 0;left:447.00px;">Focusing on<span class="pb" style="display:inline-block;width:0;height:0"></span></div>
<div class="t" id="t55" style="top:583.00px;font-size:15.8px;line-height:15.8px;color:#2b2b2b;font-weight:400;-webkit-text-stroke:0.3px #2b2b2b;transform:scaleX(1.0598);transform-origin:0 0;left:430.60px;">the user leads to<span class="pb" style="display:inline-block;width:0;height:0"></span></div>
<div class="t" id="t56" style="top:690.00px;font-size:15.8px;line-height:15.8px;color:#1a5c98;font-weight:400;-webkit-text-stroke:0.25px #1a5c98;transform:scaleX(1.0269);transform-origin:0 0;left:438.00px;">job satisfaction<span class="pb" style="display:inline-block;width:0;height:0"></span></div>
<div class="t" id="t57" style="top:751.00px;font-size:8.6px;line-height:8.6px;color:#1f3a66;font-weight:400;-webkit-text-stroke:0.2px #1f3a66;transform:scaleX(0.9732);transform-origin:0 0;left:42.20px;"><b>A user-centered approach</b> leads to improved:<span class="pb" style="display:inline-block;width:0;height:0"></span></div>
<div class="t" id="t58" style="top:749.00px;font-size:11.2px;line-height:11.2px;color:#1e1e1e;font-weight:400;-webkit-text-stroke:0.35px #1e1e1e;transform:scaleX(0.9625);transform-origin:0 0;left:247.00px;">user experience<span class="pb" style="display:inline-block;width:0;height:0"></span></div>
<div class="t" id="t59" style="top:749.00px;font-size:11.2px;line-height:11.2px;color:#1e1e1e;font-weight:400;-webkit-text-stroke:0.35px #1e1e1e;transform:scaleX(0.9927);transform-origin:0 0;left:360.40px;">user satisfaction<span class="pb" style="display:inline-block;width:0;height:0"></span></div>
<!-- PDF overlay -->
<svg class="abs" style="left:472px;top:656.8px" width="115.2" height="114.4" viewBox="0 0 115.2 114.4">
<rect x="0" y="0" width="115.2" height="114.4" rx="13" fill="#d9492f"/>
<g fill="#fff" transform="translate(-472,-656.8)">
<path fill-rule="evenodd" d="M493.6,697.7 H514 Q516,697.7 516,699.7 V717.4 Q516,719.4 514,719.4 H502 V730.6 H493.6 Z M502,705.4 V712.4 H508.3 V705.4 Z"/>
<path fill-rule="evenodd" d="M520.5,697.7 H540.9 Q542.9,697.7 542.9,699.7 V728.6 Q542.9,730.6 540.9,730.6 H520.5 Z M528.6,705.4 V722.9 H535 V705.4 Z"/>
<path d="M548.2,697.7 H565.5 V705.4 H556.6 V712.4 H563.6 V719.4 H556.6 V730.6 H548.2 Z"/>
</g></svg>
</body></html>
